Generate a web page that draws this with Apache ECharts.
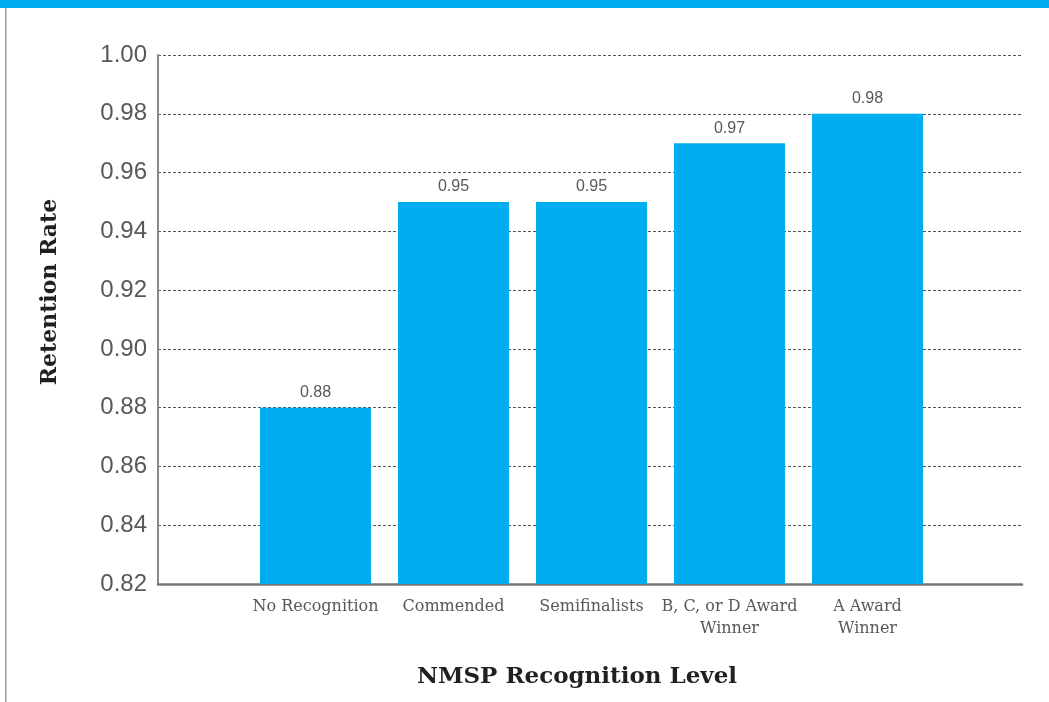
<!DOCTYPE html>
<html>
<head>
<meta charset="utf-8">
<title>Retention Rate by NMSP Recognition Level</title>
<script src="https://cdn.jsdelivr.net/npm/echarts@6/dist/echarts.min.js"></script>
<style>
  html, body { margin: 0; padding: 0; background: #fff; }
  #chart { width: 1049px; height: 702px; }
</style>
</head>
<body>
<div id="chart"></div>
<script>
// chart data
const categories = ['No Recognition', 'Commended', 'Semifinalists', 'B, C, or D Award\nWinner', 'A Award\nWinner']
const retention = [0.88, 0.95, 0.95, 0.97, 0.98]
const yTicks = [0.82, 0.84, 0.86, 0.88, 0.90, 0.92, 0.94, 0.96, 0.98, 1.00]

const blue = '#00adee'
const grey = '#58585a'
const serif = '"DejaVu Serif", serif'
const sans = '"Liberation Sans", Arial, sans-serif'

let chart = echarts.init(document.getElementById('chart'))

let option = {
  animation: false,
  backgroundColor: '#fff',
  grid: [
    // frame: axis lines and dashed gridlines
    {left: 158, right: 27, top: 55, bottom: 118},
    // bars
    {left: 246.5, right: 112.5, top: 55, bottom: 118}
  ],
  xAxis: [
    {
      type: 'category',
      gridIndex: 0,
      data: [''],
      axisLine: {lineStyle: {color: '#77777a', width: 2.5}},
      axisTick: {show: false},
      axisLabel: {show: false}
    },
    {
      type: 'category',
      gridIndex: 1,
      data: categories,
      axisLine: {show: false},
      axisTick: {show: false},
      axisLabel: {
        interval: 0,
        margin: 12,
        color: grey,
        fontFamily: serif,
        fontSize: 16,
        lineHeight: 22
      }
    }
  ],
  yAxis: [
    {
      type: 'value',
      gridIndex: 0,
      min: yTicks[0],
      max: yTicks[yTicks.length - 1],
      interval: 0.02,
      axisLine: {show: true, lineStyle: {color: '#8a8a8d', width: 2}},
      axisTick: {show: false},
      axisLabel: {
        margin: 11,
        color: grey,
        fontFamily: sans,
        fontSize: 24,
        formatter: v => v.toFixed(2)
      },
      splitLine: {show: true, lineStyle: {color: '#555', type: [3, 2], width: 1}}
    },
    {
      type: 'value',
      gridIndex: 1,
      min: yTicks[0],
      max: yTicks[yTicks.length - 1],
      interval: 0.02,
      show: false
    }
  ],
  series: [{
    type: 'bar',
    xAxisIndex: 1,
    yAxisIndex: 1,
    data: retention,
    barWidth: 111,
    itemStyle: {color: blue},
    label: {
      show: true,
      position: 'top',
      distance: 7,
      color: grey,
      fontFamily: sans,
      fontSize: 16,
      formatter: p => p.value.toFixed(2)
    }
  }],
  graphic: [
    {type: 'rect', left: 0, top: 0, shape: {width: 1049, height: 8}, style: {fill: blue}},
    {type: 'rect', left: 5, top: 8, shape: {width: 1.5, height: 694}, style: {fill: '#9a9a9a'}},
    {
      type: 'text',
      x: 577,
      y: 677,
      style: {
        text: 'NMSP Recognition Level',
        font: 'bold 23px ' + serif,
        fill: '#231f20',
        align: 'center',
        verticalAlign: 'middle'
      }
    },
    {
      type: 'text',
      x: 50,
      y: 292,
      rotation: Math.PI / 2,
      style: {
        text: 'Retention Rate',
        font: 'bold 22px ' + serif,
        fill: '#231f20',
        align: 'center',
        verticalAlign: 'middle'
      }
    }
  ]
}

chart.setOption(option)
</script>
</body>
</html>
